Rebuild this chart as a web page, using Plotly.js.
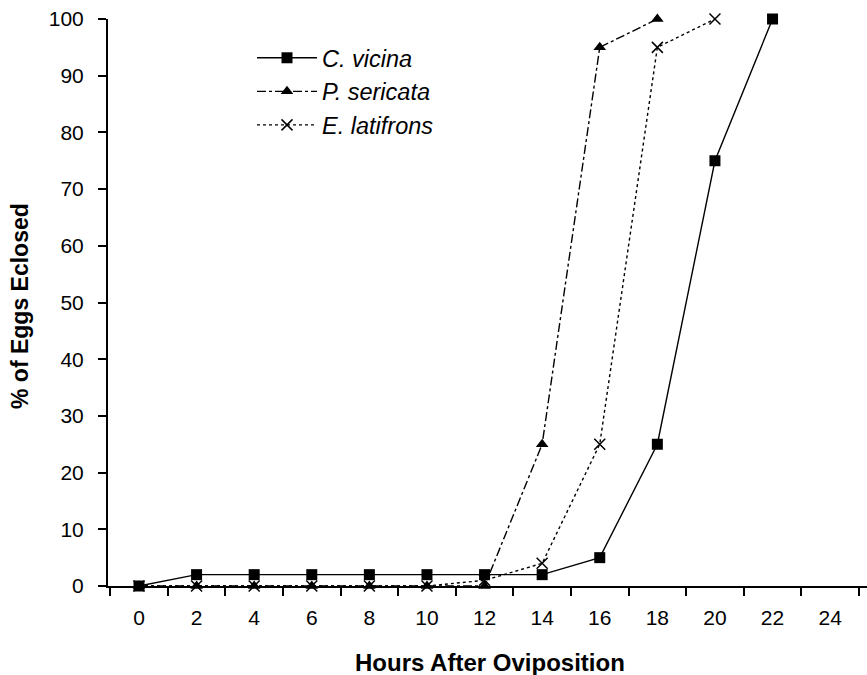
<!DOCTYPE html>
<html>
<head>
<meta charset="utf-8">
<script src="https://cdn.plot.ly/plotly-3.0.1.min.js"></script>
<style>html,body{margin:0;padding:0;background:#fff}#chart{width:867px;height:675px}</style>
</head>
<body>
<div id="chart"></div>
<script>
var hours = ["0","2","4","6","8","10","12","14","16","18","20","22","24"];
var cVicina = [0,2,2,2,2,2,2,2,5,25,75,100];
var pSericata = [0,0,0,0,0,0,0,25,95,100];
var eLatifrons = [0,0,0,0,0,0,1,4,25,95,100];
var seriesNames = ["C. vicina","P. sericata","E. latifrons"];
var xTitle = "Hours After Oviposition";
var yTitle = "% of Eggs Eclosed";

var font = "Liberation Sans, Arial, sans-serif";
function xs(arr){ return hours.slice(0, arr.length); }

var traces = [
  {x: xs(cVicina), y: cVicina, name: "<i>"+seriesNames[0]+"</i>", mode: "lines+markers", cliponaxis: false,
   line: {color: "#000", width: 1.4, dash: "solid"},
   marker: {symbol: "square", size: 11, color: "#000"}},
  {x: xs(pSericata), y: pSericata, name: "<i>"+seriesNames[1]+"</i>", mode: "lines+markers", cliponaxis: false,
   line: {color: "#000", width: 1.4, dash: "dashdot"},
   marker: {symbol: "triangle-up", size: 11, color: "#000"}},
  {x: xs(eLatifrons), y: eLatifrons, name: "<i>"+seriesNames[2]+"</i>", mode: "lines+markers", cliponaxis: false,
   line: {color: "#000", width: 1.4, dash: "dot"},
   marker: {symbol: "x-thin-open", size: 11, color: "#000", line: {color: "#000", width: 1.5}}}
];

var layout = {
  width: 867, height: 675,
  margin: {l: 108, r: 0, t: 19, b: 89},
  paper_bgcolor: "#fff", plot_bgcolor: "#fff",
  font: {family: font, color: "#000", size: 21},
  showlegend: true,
  legend: {x: (252-108)/759, y: (586-36)/567, xanchor: "left", yanchor: "top", bgcolor: "rgba(0,0,0,0)",
           itemwidth: 60, tracegroupgap: 0,
           font: {family: font, size: 23.5, color: "#000"}},
  xaxis: {
    type: "category", categoryorder: "array", categoryarray: hours,
    range: [-0.538, 12.64], tickson: "boundaries",
    showline: true, linecolor: "#000", linewidth: 2,
    ticks: "outside", ticklen: 8, tickwidth: 2, tickcolor: "#000",
    showgrid: false, zeroline: false, ticklabelstandoff: 12,
    tickfont: {family: font, size: 21, color: "#000"}
  },
  yaxis: {
    range: [0, 100], tickvals: [0,10,20,30,40,50,60,70,80,90,100],
    showline: true, linecolor: "#000", linewidth: 2,
    ticks: "outside", ticklen: 8, tickwidth: 2, tickcolor: "#000",
    showgrid: false, zeroline: false, ticklabelstandoff: 10,
    tickfont: {family: font, size: 21, color: "#000"}
  },
  annotations: [
    {text: "<b>"+xTitle+"</b>", xref: "paper", yref: "paper", x: (490-108)/759, y: -(662-586)/567,
     xanchor: "center", yanchor: "middle", showarrow: false, font: {family: font, size: 24, color: "#000"}},
    {text: "<b>"+yTitle+"</b>", xref: "paper", yref: "paper", x: -(108-20)/759, y: (586-306)/567,
     xanchor: "center", yanchor: "middle", textangle: -90, showarrow: false, font: {family: font, size: 23, color: "#000"}}
  ]
};

Plotly.newPlot("chart", traces, layout, {displayModeBar: false, staticPlot: true});
</script>
</body>
</html>
